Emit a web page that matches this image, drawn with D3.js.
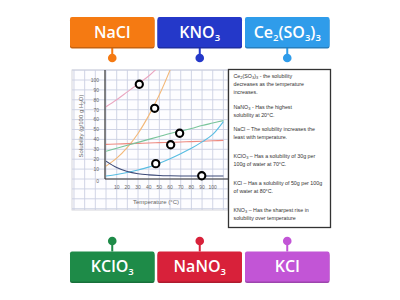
<!DOCTYPE html>
<html>
<head>
<meta charset="utf-8">
<script src="https://cdn.jsdelivr.net/npm/d3@7"></script>
<style>
  body { margin: 0; background: #fff; }
  svg { display: block; }
</style>
</head>
<body>
<div id="container"></div>
<script>
/* DATA */
const temps = [0, 10, 20, 30, 40, 50, 60, 70, 80, 90, 100, 110];
const nano3 = [73, 80, 88, 96, 104, 114, 124];
const kno3 = [13, 21, 32, 46, 64, 85, 110, 138];
const nacl = [35, 35.3, 35.7, 36, 36.3, 36.7, 37, 37.4, 37.8, 38.2, 38.6, 39];
const kcl = [28, 31, 34, 37, 40, 43, 46, 48.5, 51, 54, 56.5, 59];
const kclo3 = [3, 4.5, 6.5, 9, 12, 16, 20.5, 25.5, 31, 37.5, 45, 58];
const ce2so3 = [18, 11.5, 7.5, 5.3, 4.2, 3.6, 3.3, 3.1, 3, 3, 3, 3];

// drop targets (temperature, solubility)
const targets = [[31.2, 95.7], [45.6, 71.4], [69, 46.2], [60.6, 34.6], [46.6, 15.5], [89.7, 3.3]];

const xTicks = [10, 20, 30, 40, 50, 60, 70, 80, 90, 100];
const yTicks = [0, 10, 20, 30, 40, 50, 60, 70, 80, 90, 100];

const topLabels = ["NaCl", "KNO_3", "Ce_2(SO_3)_3"];
const bottomLabels = ["KClO_3", "NaNO_3", "KCl"];

const notes = [
  ["Ce_2(SO_3)_3 - the solubility", "decreases as the temperature", "increases."],
  ["NaNO_3 - Has the highest", "solubility at 20°C."],
  ["NaCl – The solubility increases the", "least with temperature."],
  ["KClO_3 – Has a solubility of 30g per", "100g of water at 70°C."],
  ["KCl – Has a solubility of 50g per 100g", "of water at 80°C."],
  ["KNO_3 – Has the sharpest rise in", "solubility over temperature"]
];

/* CONSTANTS */
const width = 400, height = 300;
const topColors = ["#f57a12", "#2438c9", "#2f9cea"];
const bottomColors = ["#1e8b48", "#d8213a", "#c255d6"];

const svg = d3.select("#container").append("svg")
  .attr("width", width).attr("height", height);

// write "A_2" style text as tspans with subscripts
function richText(sel, str, subSize) {
  let shift = 0;
  str.split(/(_\d)/).filter(s => s.length).forEach(part => {
    if (part[0] === "_") {
      const s = sel.append("tspan").attr("font-size", subSize).text(part[1]);
      if (shift === 0) { s.attr("dy", subSize * 0.35); shift = subSize * 0.35; }
    } else {
      const s = sel.append("tspan").text(part);
      if (shift !== 0) { s.attr("dy", -shift); shift = 0; }
    }
  });
}

/* SCALES */
const x = d3.scaleLinear().domain([0, 110]).range([106, 223.4]);
const y = d3.scaleLinear().domain([0, 110]).range([179, 70.1]);

/* CHART PANEL */
const panel = { x0: 72, y0: 70, x1: 228, y1: 210 };
svg.append("rect")
  .attr("x", panel.x0).attr("y", panel.y0)
  .attr("width", panel.x1 - panel.x0).attr("height", panel.y1 - panel.y0)
  .attr("fill", "#fdfdff").attr("stroke", "#d6d6dc").attr("stroke-width", 1);

// grid
const gx = d3.range(-30, 111, 10);
const gy = d3.range(-30, 111, 10);
svg.append("g").selectAll("line").data(gx).join("line")
  .attr("x1", d => x(d)).attr("x2", d => x(d))
  .attr("y1", panel.y0).attr("y2", panel.y1)
  .attr("stroke", "#cbcfe2").attr("stroke-width", 0.9);
svg.append("g").selectAll("line").data(gy).join("line")
  .attr("y1", d => y(d)).attr("y2", d => y(d))
  .attr("x1", panel.x0).attr("x2", panel.x1)
  .attr("stroke", "#cbcfe2").attr("stroke-width", 0.9);

// clip for curves
svg.append("clipPath").attr("id", "plotclip").append("rect")
  .attr("x", x(0)).attr("y", panel.y0)
  .attr("width", panel.x1 - x(0)).attr("height", y(0) - panel.y0);

const line = d3.line()
  .x((d, i) => x(temps[i]))
  .y(d => y(d))
  .curve(d3.curveMonotoneX);

const curves = [
  { vals: nano3, color: "#eaa6c0" },
  { vals: kno3, color: "#f3b878" },
  { vals: nacl, color: "#ee8a80" },
  { vals: kcl, color: "#78c49a" },
  { vals: kclo3, color: "#58bde2" },
  { vals: ce2so3, color: "#3c4a78" }
];
svg.append("g").attr("clip-path", "url(#plotclip)")
  .selectAll("path").data(curves).join("path")
  .attr("d", d => line(d.vals))
  .attr("fill", "none")
  .attr("stroke", d => d.color)
  .attr("stroke-width", 1.1);

// axes
svg.append("line").attr("x1", x(0) - 1).attr("x2", x(0) - 1)
  .attr("y1", panel.y0).attr("y2", y(0))
  .attr("stroke", "#333").attr("stroke-width", 1.2);
svg.append("line").attr("x1", x(0) - 1).attr("x2", panel.x1)
  .attr("y1", y(0)).attr("y2", y(0))
  .attr("stroke", "#333").attr("stroke-width", 1.2);

svg.append("g").selectAll("text").data(yTicks).join("text")
  .attr("x", 99).attr("y", d => y(d) + (d === 0 ? 4 : 1.8))
  .attr("text-anchor", "end")
  .attr("font-family", "Liberation Sans, Arial, sans-serif")
  .attr("font-size", 5).attr("fill", "#666")
  .text(d => d);
svg.append("g").selectAll("text").data(xTicks).join("text")
  .attr("x", d => x(d)).attr("y", 188.5)
  .attr("text-anchor", "middle")
  .attr("font-family", "Liberation Sans, Arial, sans-serif")
  .attr("font-size", 5).attr("fill", "#666")
  .text(d => d);

svg.append("text")
  .attr("x", 156).attr("y", 204)
  .attr("text-anchor", "middle")
  .attr("font-family", "Liberation Sans, Arial, sans-serif")
  .attr("font-size", 6).attr("fill", "#666")
  .text("Temperature (°C)");

const yt = svg.append("text")
  .attr("transform", "translate(83,126) rotate(-90)")
  .attr("text-anchor", "middle")
  .attr("font-family", "Liberation Sans, Arial, sans-serif")
  .attr("font-size", 6).attr("fill", "#666");
richText(yt, "Solubility (g/100 g H_2O)", 4.5);

// targets
svg.append("g").selectAll("circle").data(targets).join("circle")
  .attr("cx", d => x(d[0])).attr("cy", d => y(d[1]))
  .attr("r", 3.6)
  .attr("fill", "#fff").attr("stroke", "#000").attr("stroke-width", 2.1);

/* NOTES BOX */
svg.append("rect")
  .attr("x", 228.5).attr("y", 69.5).attr("width", 102).attr("height", 158)
  .attr("fill", "#fff").attr("stroke", "#333").attr("stroke-width", 1.3);

const noteY = [78, 108.5, 131, 158, 184.5, 212];
notes.forEach((lines, i) => {
  lines.forEach((ln, j) => {
    const t = svg.append("text")
      .attr("x", 233.5).attr("y", noteY[i] + j * 8.1)
      .attr("font-family", "Liberation Sans, Arial, sans-serif")
      .attr("font-size", 5.3).attr("fill", "#333");
    richText(t, ln, 4);
  });
});

/* LABEL TILES */
const tileW = 84.5, tileH = 30, tileX = [70, 157.5, 245];

function tiles(labels, colors, ty, pinY) {
  labels.forEach((lab, i) => {
    const cx = tileX[i] + tileW / 2;
    const dark = d3.color(colors[i]).darker(0.6);
    // pin
    svg.append("line").attr("x1", cx).attr("x2", cx)
      .attr("y1", pinY).attr("y2", pinY < ty ? ty : ty + tileH)
      .attr("stroke", colors[i]).attr("stroke-width", 2);
    svg.append("circle").attr("cx", cx).attr("cy", pinY).attr("r", 4.3)
      .attr("fill", colors[i]);
    // tile
    svg.append("rect").attr("x", tileX[i]).attr("y", ty + 1.5)
      .attr("width", tileW).attr("height", tileH)
      .attr("rx", 2).attr("fill", dark);
    svg.append("rect").attr("x", tileX[i]).attr("y", ty)
      .attr("width", tileW).attr("height", tileH)
      .attr("rx", 2).attr("fill", colors[i]);
    const t = svg.append("text")
      .attr("x", cx).attr("y", ty + 20.5)
      .attr("text-anchor", "middle")
      .attr("font-family", "Open Sans, sans-serif")
      .attr("font-weight", 600)
      .attr("font-size", 16).attr("fill", "#fff");
    richText(t, lab, 9.5);
  });
}
tiles(topLabels, topColors, 17, 58);
tiles(bottomLabels, bottomColors, 251.5, 241);
</script>
</body>
</html>
